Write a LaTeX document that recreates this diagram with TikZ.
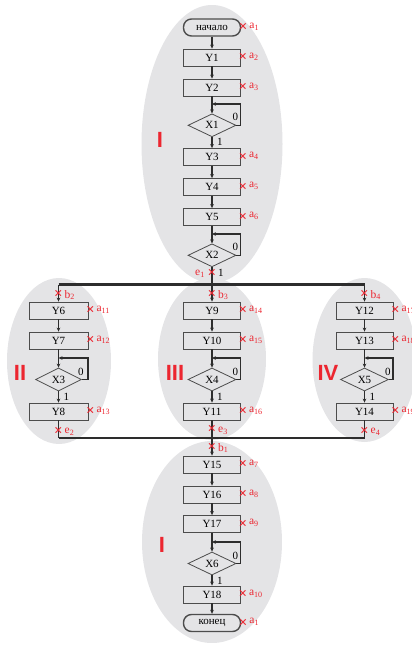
\documentclass[tikz,border=0pt]{standalone}
\usepackage{fontspec}
\setmainfont{Liberation Serif}
\newfontfamily\romanfont{Liberation Sans}
\usetikzlibrary{positioning,shapes.geometric,arrows.meta}
\definecolor{rojo}{RGB}{236,38,48}
\definecolor{fondo}{RGB}{228,228,230}
\definecolor{linea}{RGB}{45,45,45}

\begin{document}
\begin{tikzpicture}[x=1pt,y=-1pt,
    every node/.style={font=\fontsize{11}{13}\selectfont},
    caja/.style={draw=linea!85, line width=0.8pt, fill=fondo,
      minimum width=57pt, minimum height=17pt, inner sep=0pt},
    term/.style={caja, rounded corners=8pt, line width=1.4pt},
    cond/.style={diamond, draw=linea!85, line width=0.8pt, fill=fondo,
      minimum width=48pt, minimum height=23pt, inner sep=0pt},
    flujo/.style={draw=linea, line width=1.6pt},
    flecha/.style={flujo, -{Stealth[length=4pt,width=3.6pt]}},
    bus/.style={draw=linea, line width=2.8pt},
    cruz/.style={text=rojo, inner sep=0pt, font=\fontsize{15}{15}\selectfont\bfseries},
    marca/.style={text=rojo, inner sep=0pt, anchor=west,
      font=\fontsize{11.5}{13}\selectfont},
    rotulo/.style={inner sep=0pt},
    zona/.style={fill=fondo},
    romano/.style={text=rojo, inner sep=0pt,
      font=\fontsize{22}{22}\selectfont\romanfont\bfseries}]
    \useasboundingbox (0,0) rectangle (412,645);

    % Fondos de los bloques
    \fill[zona] (212,144) ellipse [x radius=70.5pt, y radius=139pt];
    \fill[zona] (212,542) ellipse [x radius=70pt, y radius=101pt];
    \fill[zona] (59,361) ellipse [x radius=52pt, y radius=83pt];
    \fill[zona] (212,359) ellipse [x radius=54pt, y radius=81pt];
    \fill[zona] (364.5,360) ellipse [x radius=52pt, y radius=82pt];

    % Números de los bloques
    \node[romano] (r1) at (160,140) {I};
    \node[romano] (r2) at (20,373) {II};
    \node[romano] (r3) at (175,373) {III};
    \node[romano] (r4) at (328,373) {IV};
    \node[romano] (r5) at (162,545) {I};

    % Bloque I superior
    \node[term] (ini) at (212,27.5) {начало};
    \node[caja] (y1) at (212,57.5) {Y1};
    \node[caja] (y2) at (212,87.5) {Y2};
    \coordinate (j1) at (212,104);
    \node[cond] (x1) at (212,125.3) {X1};
    \node[caja] (y3) at (212,157) {Y3};
    \node[caja] (y4) at (212,187) {Y4};
    \node[caja] (y5) at (212,217) {Y5};
    \coordinate (j2) at (212,234);
    \node[cond] (x2) at (212,255.3) {X2};

    \draw[flecha] (ini) -- (y1);
    \draw[flecha] (y1) -- (y2);
    \draw[flecha] (y2) -- (x1);
    \draw[flecha] (x1.east) -- ++(4,0) |- (j1);
    \draw[flecha] (x1) -- (y3);
    \draw[flecha] (y3) -- (y4);
    \draw[flecha] (y4) -- (y5);
    \draw[flecha] (y5) -- (x2);
    \draw[flecha] (x2.east) -- ++(4,0) |- (j2);
    \node[rotulo, anchor=south] (c1) at ([xshift=-1pt,yshift=4pt]x1.east) {0};
    \node[rotulo, anchor=west] (u1) at ([xshift=5pt,yshift=-5pt]x1.south) {1};
    \node[rotulo, anchor=south] (c2) at ([xshift=-1pt,yshift=4pt]x2.east) {0};

    % Bifurcación hacia los bloques paralelos
    \coordinate (bus) at (212,284.5);
    \coordinate (busl) at (58.5,284.5);
    \coordinate (busr) at (364.5,284.5);
    \draw[bus] (busl) -- (busr);
    \draw[flujo] (x2) -- (bus);

    % Bloque II
    \node[caja, minimum width=59pt] (y6) at (58.5,310.5) {Y6};
    \node[caja, minimum width=59pt] (y7) at (58.5,340.5) {Y7};
    \coordinate (j3) at (58.5,358);
    \node[cond, minimum width=46pt] (x3) at (58.5,379.5) {X3};
    \node[caja, minimum width=59pt] (y8) at (58.5,411.5) {Y8};
    \draw[flecha] (busl) -- (y6);
    \draw[flecha] (y6) -- (y7);
    \draw[flecha] (y7) -- (x3);
    \draw[flecha] (x3.east) -- ++(6,0) |- (j3);
    \draw[flecha] (x3) -- (y8);
    \node[rotulo, anchor=south] (c3) at ([xshift=-1pt,yshift=4pt]x3.east) {0};
    \node[rotulo, anchor=west] (u3) at ([xshift=5pt,yshift=-5pt]x3.south) {1};

    % Bloque III
    \node[caja] (y9) at (212,310.5) {Y9};
    \node[caja] (y10) at (212,340.5) {Y10};
    \coordinate (j4) at (212,358);
    \node[cond] (x4) at (212,379.5) {X4};
    \node[caja] (y11) at (212,411.5) {Y11};
    \draw[flecha] (bus) -- (y9);
    \draw[flecha] (y9) -- (y10);
    \draw[flecha] (y10) -- (x4);
    \draw[flecha] (x4.east) -- ++(4,0) |- (j4);
    \draw[flecha] (x4) -- (y11);
    \node[rotulo, anchor=south] (c4) at ([xshift=-1pt,yshift=4pt]x4.east) {0};
    \node[rotulo, anchor=west] (u4) at ([xshift=5pt,yshift=-5pt]x4.south) {1};

    % Bloque IV
    \node[caja] (y12) at (364.5,310.5) {Y12};
    \node[caja] (y13) at (364.5,340.5) {Y13};
    \coordinate (j5) at (364.5,358);
    \node[cond] (x5) at (364.5,379.5) {X5};
    \node[caja] (y14) at (364.5,411.5) {Y14};
    \draw[flecha] (busr) -- (y12);
    \draw[flecha] (y12) -- (y13);
    \draw[flecha] (y13) -- (x5);
    \draw[flecha] (x5.east) -- ++(4,0) |- (j5);
    \draw[flecha] (x5) -- (y14);
    \node[rotulo, anchor=south] (c5) at ([xshift=-1pt,yshift=4pt]x5.east) {0};
    \node[rotulo, anchor=west] (u5) at ([xshift=5pt,yshift=-5pt]x5.south) {1};

    % Unión de los bloques paralelos
    \coordinate (jun) at (212,438);
    \coordinate (junl) at (58.5,438);
    \coordinate (junr) at (364.5,438);
    \draw[flujo] (y8) -- (junl);
    \draw[flujo] (y11) -- (jun);
    \draw[flujo] (y14) -- (junr);
    \draw[bus] (junl) -- (junr);

    % Bloque I inferior
    \node[caja] (y15) at (212,464.5) {Y15};
    \node[caja] (y16) at (212,494.5) {Y16};
    \node[caja] (y17) at (212,524) {Y17};
    \coordinate (j6) at (212,542);
    \node[cond] (x6) at (212,563.5) {X6};
    \node[caja] (y18) at (212,594.5) {Y18};
    \node[term] (fin) at (212,623) {конец};
    \draw[flecha] (jun) -- (y15);
    \draw[flecha] (y15) -- (y16);
    \draw[flecha] (y16) -- (y17);
    \draw[flecha] (y17) -- (x6);
    \draw[flecha] (x6.east) -- ++(4,0) |- (j6);
    \draw[flecha] (x6) -- (y18);
    \draw[flecha] (y18) -- (fin);
    \node[rotulo, anchor=south] (c6) at ([xshift=-1pt,yshift=4pt]x6.east) {0};
    \node[rotulo, anchor=west] (u6) at ([xshift=5pt,yshift=-5pt]x6.south) {1};

    % Marcas de estado a_i
    \node[cruz] (m1) at ([xshift=2pt]ini.east) {×};
    \node[marca] (t1) at ([xshift=8pt,yshift=1pt]ini.east) {a\textsubscript{1}};
    \node[cruz] (m2) at ([xshift=2pt]y1.east) {×};
    \node[marca] (t2) at ([xshift=8pt,yshift=1pt]y1.east) {a\textsubscript{2}};
    \node[cruz] (m3) at ([xshift=2pt]y2.east) {×};
    \node[marca] (t3) at ([xshift=8pt,yshift=1pt]y2.east) {a\textsubscript{3}};
    \node[cruz] (m4) at ([xshift=2pt]y3.east) {×};
    \node[marca] (t4) at ([xshift=8pt,yshift=1pt]y3.east) {a\textsubscript{4}};
    \node[cruz] (m5) at ([xshift=2pt]y4.east) {×};
    \node[marca] (t5) at ([xshift=8pt,yshift=1pt]y4.east) {a\textsubscript{5}};
    \node[cruz] (m6) at ([xshift=2pt]y5.east) {×};
    \node[marca] (t6) at ([xshift=8pt,yshift=1pt]y5.east) {a\textsubscript{6}};
    \node[cruz] (m7) at ([xshift=2pt]y15.east) {×};
    \node[marca] (t7) at ([xshift=8pt,yshift=1pt]y15.east) {a\textsubscript{7}};
    \node[cruz] (m8) at ([xshift=2pt]y16.east) {×};
    \node[marca] (t8) at ([xshift=8pt,yshift=1pt]y16.east) {a\textsubscript{8}};
    \node[cruz] (m9) at ([xshift=2pt]y17.east) {×};
    \node[marca] (t9) at ([xshift=8pt,yshift=1pt]y17.east) {a\textsubscript{9}};
    \node[cruz] (m10) at ([xshift=2pt]y18.east) {×};
    \node[marca] (t10) at ([xshift=8pt,yshift=1pt]y18.east) {a\textsubscript{10}};
    \node[cruz] (m0) at ([xshift=2pt]fin.east) {×};
    \node[marca] (t0) at ([xshift=8pt,yshift=1pt]fin.east) {a\textsubscript{1}};
    \node[cruz] (m11) at ([xshift=2pt]y6.east) {×};
    \node[marca] (t11) at ([xshift=8pt,yshift=1pt]y6.east) {a\textsubscript{11}};
    \node[cruz] (m12) at ([xshift=2pt]y7.east) {×};
    \node[marca] (t12) at ([xshift=8pt,yshift=1pt]y7.east) {a\textsubscript{12}};
    \node[cruz] (m13) at ([xshift=2pt]y8.east) {×};
    \node[marca] (t13) at ([xshift=8pt,yshift=1pt]y8.east) {a\textsubscript{13}};
    \node[cruz] (m14) at ([xshift=2pt]y9.east) {×};
    \node[marca] (t14) at ([xshift=8pt,yshift=1pt]y9.east) {a\textsubscript{14}};
    \node[cruz] (m15) at ([xshift=2pt]y10.east) {×};
    \node[marca] (t15) at ([xshift=8pt,yshift=1pt]y10.east) {a\textsubscript{15}};
    \node[cruz] (m16) at ([xshift=2pt]y11.east) {×};
    \node[marca] (t16) at ([xshift=8pt,yshift=1pt]y11.east) {a\textsubscript{16}};
    \node[cruz] (m17) at ([xshift=2pt]y12.east) {×};
    \node[marca] (t17) at ([xshift=8pt,yshift=1pt]y12.east) {a\textsubscript{17}};
    \node[cruz] (m18) at ([xshift=2pt]y13.east) {×};
    \node[marca] (t18) at ([xshift=8pt,yshift=1pt]y13.east) {a\textsubscript{18}};
    \node[cruz] (m19) at ([xshift=2pt]y14.east) {×};
    \node[marca] (t19) at ([xshift=8pt,yshift=1pt]y14.east) {a\textsubscript{19}};

    % Marcas de entrada b_i y salida e_i
    \node[cruz] (me1) at (212,273) {×};
    \node[marca, anchor=east] (te1) at (205,274) {e\textsubscript{1}};
    \node[rotulo, anchor=west] (ue1) at (218,273) {1};
    \node[cruz] (mb2) at (58.5,294) {×};
    \node[marca] (tb2) at (64.5,295) {b\textsubscript{2}};
    \node[cruz] (mb3) at (212,294) {×};
    \node[marca] (tb3) at (218,295) {b\textsubscript{3}};
    \node[cruz] (mb4) at (364.5,294) {×};
    \node[marca] (tb4) at (370.5,295) {b\textsubscript{4}};
    \node[cruz] (me2) at (58.5,431) {×};
    \node[marca] (te2) at (64.5,432) {e\textsubscript{2}};
    \node[cruz] (me3) at (212,429.5) {×};
    \node[marca] (te3) at (218,430.5) {e\textsubscript{3}};
    \node[cruz] (me4) at (364.5,431) {×};
    \node[marca] (te4) at (370.5,432) {e\textsubscript{4}};
    \node[cruz] (mb1) at (212,447) {×};
    \node[marca] (tb1) at (218,448) {b\textsubscript{1}};
  \end{tikzpicture}
\end{document}
